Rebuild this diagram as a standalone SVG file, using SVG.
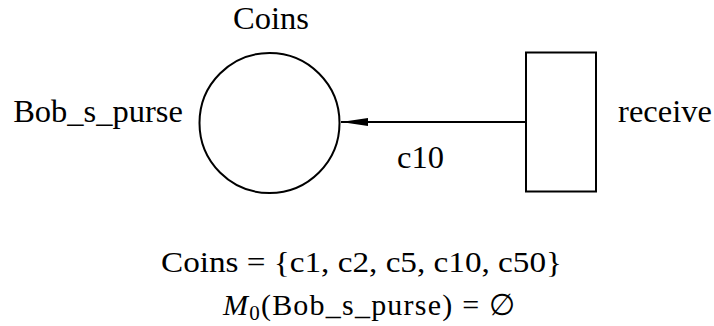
<svg xmlns="http://www.w3.org/2000/svg" width="714" height="326" viewBox="0 0 714 326">
<style>
.lbl{font-family:"Liberation Serif","Times New Roman",serif;font-size:32.5px;fill:#000}
.math{font-family:"Liberation Serif","DejaVu Serif",serif;font-size:30px;fill:#000}
.shape{fill:#fff;stroke:#000;stroke-width:2}
.edge{stroke:#000;stroke-width:2;fill:none}
</style>
<defs>
<marker id="arrow" markerWidth="27" markerHeight="10" refX="27" refY="5" orient="auto" markerUnits="userSpaceOnUse">
<path d="M0,1 L27,5 L0,9 Z" fill="#000"/>
</marker>
</defs>
<rect width="714" height="326" fill="#fff"/>
<g id="connectors">
<line class="edge" x1="526" y1="122" x2="341" y2="122" marker-end="url(#arrow)"/>
<text class="lbl" x="420.5" y="168" text-anchor="middle">c10</text>
</g>
<g id="Bob_s_purse">
<circle class="shape" cx="269.5" cy="123" r="70"/>
<text class="lbl" x="271" y="29" text-anchor="middle">Coins</text>
<text class="lbl" x="98" y="122" text-anchor="middle">Bob_s_purse</text>
</g>
<g id="receive">
<rect class="shape" x="526" y="52.5" width="70" height="139"/>
<text class="lbl" x="665" y="122" text-anchor="middle">receive</text>
</g>
<g id="declarations">
<text class="math" x="161" y="272" textLength="401" lengthAdjust="spacingAndGlyphs">Coins = {c1, c2, c5, c10, c50}</text>
<text class="math" x="223" y="315" textLength="292" lengthAdjust="spacing"><tspan font-style="italic">M</tspan><tspan font-size="21" dy="5">0</tspan><tspan dy="-5">(Bob_s_purse) = ∅</tspan></text>
</g>
</svg>
